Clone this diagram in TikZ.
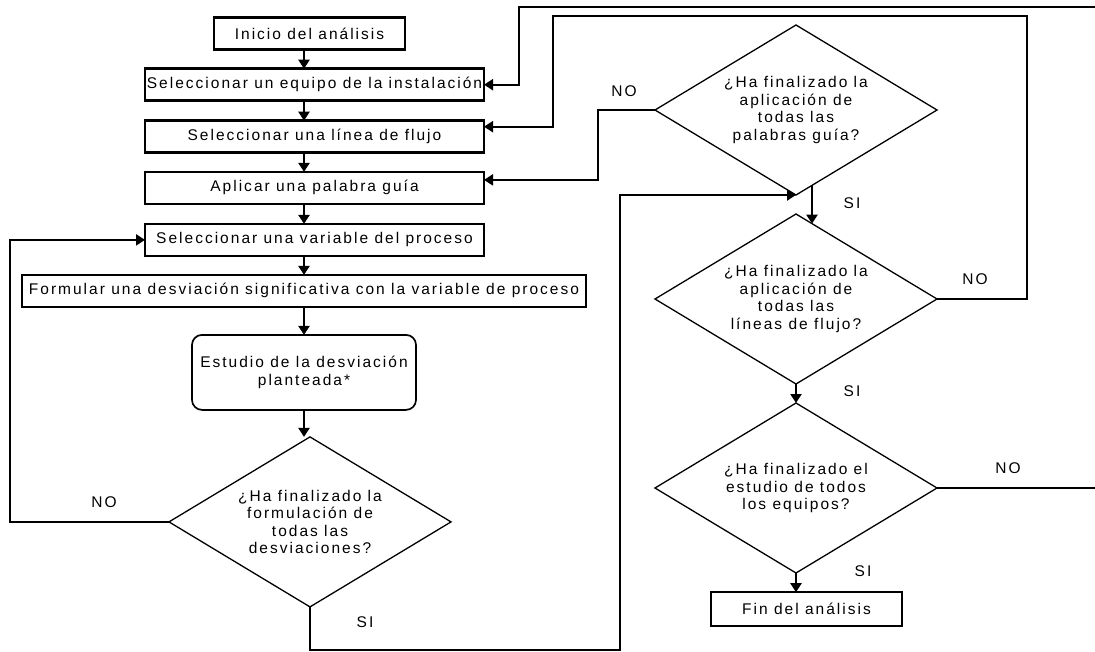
\documentclass[tikz,border=0pt]{standalone}
\usepackage{fontspec}
\setmainfont{Liberation Sans}[LetterSpace=13]
\usetikzlibrary{arrows.meta,positioning,shapes.geometric}
\tikzset{
  box/.style={draw, line width=2.4pt, minimum width=339pt, minimum height=32pt,
              inner sep=0pt, outer sep=0pt, align=center},
  proc/.style={draw, line width=1.7pt, rounded corners=10pt, minimum width=224pt,
               minimum height=75pt, inner sep=0pt, outer sep=0pt, align=center},
  decision/.style={draw, diamond, line width=1.3pt, aspect=1.65, minimum width=282pt,
                   minimum height=170pt, inner sep=0pt, outer sep=0pt, align=center},
  arr/.style={-{Triangle[length=9pt,width=11pt]}, line width=2.2pt},
  lbl/.style={inner sep=0pt}
}

\begin{document}
\begin{tikzpicture}[x=1pt, y=-1pt, font=\fontsize{15.5}{17.5}\selectfont]
  \useasboundingbox (0,0) rectangle (1095,652);
  \node[box, minimum width=191pt] (start) at (309.5,33.5) {Inicio del análisis};
  \node[box, below=19.2pt of start, xshift=5pt] (equipo) {Seleccionar un equipo de la instalación};
  \node[box, below=20pt of equipo] (linea) {Seleccionar una línea de flujo};
  \node[box, below=19.2pt of linea] (palabra) {Aplicar una palabra guía};
  \node[box, below=20pt of palabra] (variable) {Seleccionar una variable del proceso};
  \node[box, below=19pt of variable, xshift=-10.5pt, minimum width=564pt] (desv)
    {Formular una desviación significativa con la variable de proceso};
  \node[proc, below=28pt of desv] (estudio) {Estudio de la desviación\\planteada*};
  \node[decision, below=27pt of estudio, xshift=6pt] (fin1)
    {¿Ha finalizado la\\formulación de\\todas las\\desviaciones?};

  \node[decision] (q1) at (796,110) {¿Ha finalizado la\\aplicación de\\todas las\\palabras guía?};
  \node[decision, below=19pt of q1] (q2) {¿Ha finalizado la\\aplicación de\\todas las\\líneas de flujo?};
  \node[decision, below=19pt of q2] (q3) {¿Ha finalizado el\\estudio de todos\\los equipos?};
  \node[box, below=19.2pt of q3, xshift=10.5pt, minimum width=191pt, minimum height=33.6pt] (end)
    {Fin del análisis};

  \coordinate (axis) at (304,0);
  \coordinate (lrail) at (10,0);
  \coordinate (bot) at (620,650);
  \coordinate (nrail) at (598,0);
  \coordinate (r2) at (1027,16);
  \coordinate (l2) at (553,16);
  \coordinate (r3) at (1100,7);
  \coordinate (l3) at (519,7);

  \foreach \a/\b in {start/equipo, equipo/linea, linea/palabra, palabra/variable,
                     variable/desv, desv/estudio, estudio/fin1}
    \draw[arr] (\a.south -| axis) -- (\b.north -| axis);
  \draw[arr] (fin1.west) -- (fin1.west -| lrail) |- (variable.west);
  \draw[arr] (fin1.south) |- (bot) |- (q1.south);
  \draw[arr] (q1.west) -- (q1.west -| nrail) |- ([yshift=8pt]palabra.east);
  \draw[arr] (q1.-78) -- (q2.78);
  \draw[arr] (q2.east) -| (r2) -- (l2) |- ([yshift=10pt]linea.east);
  \draw[arr] (q2.south) -- (q3.north);
  \draw[arr] (q3.east) -| (r3) -- (l3) |- (equipo.east);
  \draw[arr] (q3.south) -- (q3.south |- end.north);

  \node[lbl] (no1) at (104,502) {NO};
  \node[lbl] (si1) at (365,622) {SI};
  \node[lbl] (no2) at (624,91) {NO};
  \node[lbl] (si2) at (852,203) {SI};
  \node[lbl] (no3) at (975,279) {NO};
  \node[lbl] (si3) at (852,391) {SI};
  \node[lbl] (no4) at (1008,468) {NO};
  \node[lbl] (si4) at (863,571) {SI};
\end{tikzpicture}
\end{document}
